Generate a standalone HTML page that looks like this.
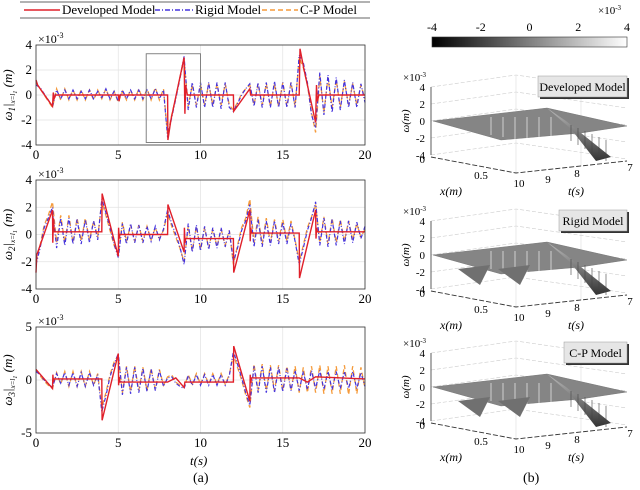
<!DOCTYPE html>
<html><head><meta charset="utf-8"><style>
html,body{margin:0;padding:0;background:#fff;}
svg, svg text{font-family:"Liberation Serif","DejaVu Serif",serif;}
</style></head><body>
<svg id="fig" width="640" height="485" viewBox="0 0 640 485" font-family="Liberation Serif, serif">
<g id="legend">
<line x1="20" y1="2" x2="370" y2="2" stroke="#333" stroke-width="0.8"/>
<line x1="20" y1="18" x2="370" y2="18" stroke="#333" stroke-width="0.8"/>
<g><line x1="24" y1="10" x2="60" y2="10" stroke="#e0202a" stroke-width="1.6"/><text x="62" y="14" font-size="13">Developed Model</text></g>
<g><line x1="155" y1="10" x2="193" y2="10" stroke="#4433dd" stroke-width="1.4" stroke-dasharray="5,2,1,2"/><text x="195" y="14" font-size="13">Rigid Model</text></g>
<g><line x1="262" y1="10" x2="298" y2="10" stroke="#f59a3a" stroke-width="1.4" stroke-dasharray="5,3"/><text x="300" y="14" font-size="13">C-P Model</text></g>
</g>
<text x="193" y="482" font-size="14">(a)</text>
<text x="190" y="465" font-size="13" font-style="italic">t(s)</text>
<text x="523" y="482" font-size="14">(b)</text>
</svg>
<script>
const tStep = 0.25;
const red1 = [[0,1.2],[0.1,0.8],[1,-0.9],[1.05,0.2],[1.1,-0.3],[1.2,0],[5,0],[5.05,-0.5],[5.1,0],[8,0],[8.02,-3.6],[8.2,-2],[9,3],[9.05,-1.5],[9.1,0.8],[9.2,0],[12,0],[12.02,-1.3],[13,0.5],[13.05,0],[16,0],[16.05,3.7],[16.3,2],[17,-2.2],[17.05,0.8],[17.1,-0.5],[17.2,0],[20,0]];
const blue1 = [0.8,0.6,0.1,-0.4, -0.9,0.4,-0.3,0.4, -0.3,0.4,-0.3,0.3, -0.3,0.4,-0.3,0.3, -0.2,0.5,-0.3,0.3, -0.5,0.4,-0.3,0.4, -0.3,0.4,-0.3,0.4, -0.3,0.5,-0.3,0.4, -3.4,-1.8,-0.3,1.3, 3.1,-1.2,1.0,-1.0, 1.0,-1.0,1.0,-1.0, 1.0,-1.1,1.0,-1.0, -1.3,-0.7,0.0,0.5, 0.9,-0.9,1.0,-1.0, 1.0,-1.0,1.1,-1.0, 1.0,-1.0,1.0,-1.0, 3.2,2.6,1.0,-1.6, -2.6,1.8,-1.6,1.6, -1.4,1.4,-1.2,1.2, -1.0,1.0,-1.0,0.9, -0.6];
const orange1 = [1.0,0.5,0.0,-0.5, -1.0,0.5,-0.4,0.5, -0.4,0.4,-0.4,0.4, -0.4,0.4,-0.4,0.4, -0.3,0.5,-0.4,0.3, -0.6,0.3,-0.4,0.4, -0.4,0.5,-0.4,0.5, -0.4,0.6,-0.4,0.5, -3.2,-1.6,-0.2,1.4, 2.8,-0.9,0.8,-0.8, 0.8,-0.8,0.9,-0.8, 0.9,-0.8,0.9,-0.8, -1.2,-0.6,0.1,0.5, 0.8,-0.8,0.9,-0.8, 0.9,-0.9,0.9,-0.9, 1.0,-0.9,1.0,-0.9, 3.0,2.2,0.8,-1.4, -3.0,1.5,-1.4,1.4, -1.0,1.2,-1.0,1.1, -0.8,0.9,-0.8,0.8, -0.3];
const red2 = [[0,-2.8],[0.05,-1.5],[1,1.8],[1.02,-0.6],[1.06,1.2],[1.1,0.2],[4,0.2],[4.02,3],[5,-1.6],[5.02,0.5],[5.06,-0.3],[5.1,0],[8,0],[8.02,2.2],[9,-1.3],[9.02,0.5],[9.06,-0.6],[9.1,-0.3],[12,-0.3],[12.02,-2.8],[13,1.8],[13.02,-0.5],[13.06,0.5],[13.1,0.1],[16,0.1],[16.02,-3.2],[17,1.8],[17.02,-0.3],[17.06,0.5],[17.1,0.2],[20,0.2]];
const blue2 = [-2.2,-1.0,0.5,1.2, 2.0,-1.0,1.2,-0.8, 1.2,-0.7,1.1,-0.7, 1.1,-0.6,1.0,-0.4, 2.6,1.6,0.5,-0.7, -1.7,0.8,-0.7,0.8, -0.6,0.7,-0.6,0.6, -0.5,0.6,-0.4,0.4, 1.8,0.8,0.0,-0.9, -2.2,0.8,-1.3,0.7, -1.2,0.6,-1.1,0.5, -1.0,0.5,-0.9,0.3, -2.0,-1.0,0.3,1.0, 2.2,-0.9,1.1,-0.9, 1.0,-0.8,1.0,-0.7, 0.9,-0.7,0.8,-0.5, -2.2,-1.0,0.3,1.2, 2.4,-0.8,1.2,-0.9, 1.1,-0.8,1.0,-0.7, 1.0,-0.6,0.9,-0.3, 0.6];
const orange2 = [-2.0,-0.8,0.7,1.4, 2.4,-0.6,1.4,-0.6, 1.4,-0.6,1.2,-0.5, 1.2,-0.4,1.0,-0.2, 2.4,1.4,0.3,-0.8, -1.5,0.9,-0.5,0.7, -0.5,0.7,-0.5,0.6, -0.4,0.5,-0.3,0.3, 1.6,0.6,-0.2,-1.0, -2.0,0.6,-1.2,0.6, -1.1,0.5,-1.0,0.4, -0.9,0.4,-0.8,0.3, -2.2,-0.8,0.5,1.2, 2.6,-0.6,1.3,-0.7, 1.2,-0.6,1.1,-0.5, 1.1,-0.5,1.0,-0.4, -2.0,-0.8,0.5,1.3, 2.2,-0.6,1.3,-0.7, 1.2,-0.6,1.1,-0.5, 1.0,-0.4,0.8,-0.2, 0.4];
const red3 = [[0,1],[1,-0.8],[1.03,0.5],[1.06,-0.2],[1.1,0.1],[4,0.1],[4.02,-3.8],[5,2.5],[5.02,-0.5],[5.06,0.3],[5.1,-0.2],[8,-0.2],[8.5,0.2],[9,-0.7],[9.05,-0.2],[12,-0.2],[12.02,3.2],[13,-2],[13.02,0.5],[13.06,-0.3],[13.1,0.2],[16,0.2],[16.5,-0.2],[17,0.3],[20,0.1]];
const blue3 = [0.8,0.5,0.0,-0.4, -0.7,0.6,-0.3,0.7, -0.5,0.7,-0.6,0.7, -0.6,0.7,-0.5,0.5, -3.0,-1.5,0.3,1.5, 2.5,-1.4,1.2,-1.3, 1.2,-1.2,1.1,-1.1, 1.0,-1.0,0.9,-0.6, 0.2,0.3,-0.3,-0.6, -0.8,0.4,-0.5,0.5, -0.5,0.5,-0.5,0.5, -0.5,0.5,-0.5,0.4, 2.7,1.5,0.2,-1.2, -2.4,1.3,-1.2,1.3, -1.2,1.2,-1.2,1.2, -1.1,1.1,-1.0,0.9, -1.0,0.8,-0.9,0.9, -0.8,0.9,-0.9,0.8, -0.9,0.8,-0.8,0.8, -0.8,0.8,-0.8,0.7, -0.6];
const orange3 = [1.0,0.4,-0.1,-0.5, -0.8,0.7,-0.4,0.8, -0.6,0.8,-0.6,0.8, -0.6,0.8,-0.5,0.6, -2.6,-1.2,0.5,1.7, 2.3,-1.2,1.3,-1.1, 1.3,-1.0,1.2,-1.0, 1.1,-0.9,1.0,-0.5, 0.3,0.5,-0.2,-0.5, -0.7,0.5,-0.4,0.6, -0.4,0.6,-0.4,0.6, -0.4,0.6,-0.4,0.5, 2.4,1.2,0.0,-1.4, -2.6,1.5,-1.0,1.5, -1.0,1.4,-1.0,1.4, -1.0,1.3,-1.0,1.3, -1.2,1.2,-1.2,1.3, -1.2,1.4,-1.3,1.3, -1.3,1.3,-1.3,1.4, -1.4,1.3,-1.3,1.2, -0.8];
const xTicks = [0,5,10,15,20];
const yTicks12 = [-4,-2,0,2,4];
const yTicks3 = [-5,0,5];
const zoomBox = [6.7,10,-3.8,3.3];
const cbTicks = [-4,-2,0,2,4];
const zTicks = [4,2,0,-2,-4];
const tTicks = [10,9,8,7];

const NS='http://www.w3.org/2000/svg';
const svg=document.getElementById('fig');
function mk(tag,attrs,parent){const e=document.createElementNS(NS,tag);for(const k in attrs)e.setAttribute(k,attrs[k]);if(tag==='text')e.setAttribute('font-family','Liberation Serif, serif');(parent||svg).appendChild(e);return e;}

function drawPlot(cfg){
  const g=mk('g',{});
  
  
  const X=t=>cfg.x0+(t-0)/(20-0)*(cfg.x1-cfg.x0);
  const Y=v=>cfg.yb+(v-cfg.ymin)/(cfg.ymax-cfg.ymin)*(cfg.yt-cfg.yb);
  xTicks.forEach(t=>{
    const l=mk('line',{x1:X(t),x2:X(t),y1:cfg.yt,y2:cfg.yb,stroke:'#e2e2e2','stroke-width':0.7},g);
    
    
    const tx=mk('text',{x:X(t),y:cfg.yb+14,'font-size':13,'text-anchor':'middle'},g);
    tx.textContent=t;
    
    
  });
  cfg.yticks.forEach(v=>{
    const l=mk('line',{x1:cfg.x0,x2:cfg.x1,y1:Y(v),y2:Y(v),stroke:'#e2e2e2','stroke-width':0.7},g);
    
    
    const tx=mk('text',{x:cfg.x0-4,y:Y(v)+4,'font-size':13,'text-anchor':'end'},g);
    tx.textContent=v;
    
    
  });
  const sc=mk('text',{x:cfg.x0+2,y:cfg.yt-2,'font-size':12},g);
  sc.innerHTML='×10<tspan dy="-5" font-size="8">-3</tspan>';
  
  
  const yl=mk('text',{transform:`translate(${cfg.x0-24},${(cfg.yt+cfg.yb)/2}) rotate(-90)`,'font-size':13,'font-style':'italic','text-anchor':'middle'},g);
  yl.innerHTML=`ω<tspan dy="3" font-size="9">${cfg.idx}</tspan><tspan dy="-3">|</tspan><tspan dy="3" font-size="7">x=l</tspan><tspan dy="2" font-size="6">1</tspan><tspan dy="-5"> (m)</tspan>`;
  
  
  const series=[[cfg.orange.map((v,i)=>[i*tStep,v]),'#f59a3a','5,3',1.3,'series-cp-model'],[cfg.blue.map((v,i)=>[i*tStep,v]),'#4433dd','4,2,1,2',1.2,'series-rigid-model'],[cfg.red,'#e0202a','',1.4,'series-developed-model']];
  series.forEach(s=>{
    const p=mk('polyline',{points:s[0].map(d=>X(d[0]).toFixed(1)+','+Y(d[1]).toFixed(1)).join(' '),fill:'none',stroke:s[1],'stroke-width':s[3],'stroke-dasharray':s[2]},g);
    
    
  });
  const b=mk('rect',{x:cfg.x0,y:cfg.yt,width:cfg.x1-cfg.x0,height:cfg.yb-cfg.yt,fill:'none',stroke:'#333','stroke-width':0.8},g);
  
  
  if(cfg.zoom){
    const z=mk('rect',{x:X(zoomBox[0]),y:Y(zoomBox[3]),width:X(zoomBox[1])-X(zoomBox[0]),height:Y(zoomBox[2])-Y(zoomBox[3]),fill:'none',stroke:'#777','stroke-width':0.9},g);
    
    
  }
}
drawPlot({name:'plot-w1',idx:1,x0:36,x1:365,yt:45,yb:145,ymin:-4,ymax:4,yticks:yTicks12,red:red1,blue:blue1,orange:orange1,zoom:true});
drawPlot({name:'plot-w2',idx:2,x0:36,x1:365,yt:180,yb:289,ymin:-4,ymax:4,yticks:yTicks12,red:red2,blue:blue2,orange:orange2});
drawPlot({name:'plot-w3',idx:3,x0:36,x1:365,yt:327,yb:433,ymin:-5,ymax:5,yticks:yTicks3,red:red3,blue:blue3,orange:orange3});

const defs=mk('defs',{});
const gr=mk('linearGradient',{id:'cbg',x1:0,x2:1,y1:0,y2:0},defs);
mk('stop',{offset:0,'stop-color':'#000'},gr);mk('stop',{offset:1,'stop-color':'#fff'},gr);
const sg=mk('linearGradient',{id:'wedge',x1:0,x2:0,y1:0,y2:1},defs);
mk('stop',{offset:0,'stop-color':'#bbb'},sg);mk('stop',{offset:1,'stop-color':'#333'},sg);
const cb=mk('g',{});


const CX=v=>432+(v+4)/8*195;
mk('rect',{x:432,y:37,width:195,height:10,fill:'url(#cbg)',stroke:'#333','stroke-width':0.6},cb);
cbTicks.forEach(v=>{const t=mk('text',{x:CX(v),y:31,'font-size':12,'text-anchor':'middle'},cb);t.textContent=v;

});
const ce=mk('text',{x:598,y:14,'font-size':11},cb);ce.innerHTML='×10<tspan dy="-4" font-size="7">-3</tspan>';

function panel3d(zero,label,name,boxX,dips){
  const g=mk('g',{transform:`translate(431,${zero})`});
  
  
  const S=8.5;
  zTicks.forEach(v=>{mk('polyline',{points:`0,${-v*S} 85,${-v*S-12} 196,${-v*S+4}`,fill:'none',stroke:'#ccc','stroke-width':0.6,'stroke-dasharray':'4,2'},g);
    const t=mk('text',{x:-6,y:-v*S+4,'font-size':11,'text-anchor':'end'},g);t.textContent=v;
    
    });
  mk('line',{x1:85,y1:-46,x2:85,y2:52,stroke:'#ddd','stroke-width':0.6},g);
  mk('line',{x1:150,y1:-43,x2:150,y2:45,stroke:'#ddd','stroke-width':0.6},g);
  mk('line',{x1:0,y1:-34,x2:0,y2:34,stroke:'#333','stroke-width':0.8},g);
  const s=mk('polygon',{points:'2,0 116,-13 196,5 150,12 70,19',fill:'#858585',stroke:'#6a6a6a','stroke-width':0.4},g);
  
  
  mk('polygon',{points:'116,-13 135,0 180,36 165,40 140,8',fill:'url(#wedge)'},g);
  for(let i=0;i<6;i++)mk('line',{x1:60+i*12,y1:-4,x2:60+i*12,y2:14+i*2,stroke:'#fff','stroke-width':0.6},g);
  for(let i=0;i<6;i++)mk('line',{x1:140+i*7,y1:4+i*3,x2:140+i*7,y2:20+i*4,stroke:'#444','stroke-width':0.6},g);
  dips.forEach(d=>mk('polygon',{points:`${d-22},14 ${d},30 ${d+10},10`,fill:'#707070'},g));
  mk('polyline',{points:'0,36 85,52 196,40',fill:'none',stroke:'#333','stroke-width':0.9,'stroke-dasharray':'5,2'},g);
  const z0=mk('text',{x:-6,y:42,'font-size':11,'text-anchor':'end'},g);z0.textContent='0';
  const x5=mk('text',{x:50,y:58,'font-size':11,'text-anchor':'middle'},g);x5.textContent='0.5';
  tTicks.forEach((v,i)=>{const t=mk('text',{x:[88,117,146,199][i],y:[66,62,56,50][i],'font-size':11,'text-anchor':'middle'},g);t.textContent=v;
    
    });
  const xl=mk('text',{x:20,y:74,'font-size':12,'font-style':'italic','text-anchor':'middle'},g);xl.textContent='x(m)';
  const tl=mk('text',{x:145,y:74,'font-size':12,'font-style':'italic','text-anchor':'middle'},g);tl.textContent='t(s)';
  const zl=mk('text',{transform:'translate(-22,0) rotate(-90)','font-size':11,'font-style':'italic','text-anchor':'middle'},g);zl.textContent='ω(m)';
  const ex=mk('text',{x:-28,y:-40,'font-size':11},g);ex.innerHTML='×10<tspan dy="-4" font-size="7">-3</tspan>';
  const lb=mk('g',{},g);
  
  
  mk('rect',{x:boxX+2,y:-43,width:196-boxX,height:21,fill:'#333'},lb);
  mk('rect',{x:boxX,y:-45,width:196-boxX,height:21,fill:'#e6e6e6',stroke:'#999','stroke-width':0.5},lb);
  const lt=mk('text',{x:(boxX+196)/2,y:-30,'font-size':12,'text-anchor':'middle'},lb);lt.textContent=label;
}
panel3d(121,'Developed Model','panel-developed-3d',107,[]);
panel3d(255,'Rigid Model','panel-rigid-3d',128,[49,89]);
panel3d(387,'C-P Model','panel-cp-3d',133,[49,89]);
</script>
</body></html>
